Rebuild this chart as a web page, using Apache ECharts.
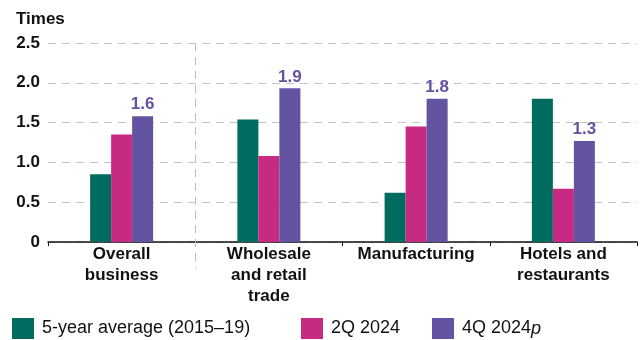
<!DOCTYPE html>
<html>
<head>
<meta charset="utf-8">
<script src="https://cdn.jsdelivr.net/npm/echarts@6/dist/echarts.min.js"></script>
<style>
html,body{margin:0;padding:0;background:#fff;}
#chart{width:644px;height:340px;}
</style>
</head>
<body>
<div id="chart"></div>
<script>
const categories = ['Overall\nbusiness', 'Wholesale\nand retail\ntrade', 'Manufacturing', 'Hotels and\nrestaurants'];
const seriesNames = ['5-year average (2015–19)', '2Q 2024', '4Q 2024p'];
const avg2015_19 = [0.85, 1.54, 0.62, 1.80];
const q2_2024 = [1.35, 1.08, 1.45, 0.67];
const q4_2024p = [1.58, 1.93, 1.80, 1.27];
const yTicks = [0, 0.5, 1.0, 1.5, 2.0, 2.5];
const yTitle = 'Times';
// separator drawn after the first category ("Overall business")
const separatorAfter = [0];

const colors = ['#006b5f', '#c72a83', '#6353a0'];
const FONT = '"Liberation Sans", Arial, sans-serif';

const chart = echarts.init(document.getElementById('chart'));

function legendAt(name, left, extra) {
  const l = {
    data: [name], left: left, top: 318, padding: 0,
    itemWidth: 22, itemHeight: 21, icon: 'rect',
    selectedMode: false,
    textStyle: { fontFamily: FONT, fontSize: 18, color: '#111', padding: [0, 0, 0, 3] }
  };
  return Object.assign(l, extra || {});
}

const option = {
  animation: false,
  color: colors,
  textStyle: { fontFamily: FONT },
  title: {
    text: yTitle, left: 11, top: 6,
    textStyle: { fontFamily: FONT, fontSize: 17, fontWeight: 'bold', color: '#111' }
  },
  legend: [
    legendAt(seriesNames[0], 12),
    legendAt(seriesNames[1], 301),
    legendAt(seriesNames[2], 432, {
      formatter: function (n) { return '{a|' + n.slice(0, -1) + '}{i|' + n.slice(-1) + '}'; },
      textStyle: {
        fontFamily: FONT, fontSize: 18, color: '#111', padding: [0, 0, 0, 3],
        rich: {
          a: { fontFamily: FONT, fontSize: 18, color: '#111' },
          i: { fontFamily: FONT, fontSize: 18, color: '#111', fontStyle: 'italic' }
        }
      }
    })
  ],
  grid: { left: 48, right: 7, top: 43, bottom: 98 },
  xAxis: {
    type: 'category', data: categories,
    axisLine: { lineStyle: { color: '#111', width: 1.5 } },
    axisTick: { show: true, length: 4, lineStyle: { color: '#111' } },
    axisLabel: {
      interval: 0, margin: 2, color: '#111', fontFamily: FONT,
      fontSize: 17, fontWeight: 'bold', lineHeight: 21, verticalAlign: 'top'
    },
    splitLine: { show: false }
  },
  yAxis: {
    type: 'value', min: 0, max: 2.5, interval: 0.5,
    axisLine: { show: false }, axisTick: { show: false },
    axisLabel: {
      margin: 8, color: '#111', fontFamily: FONT, fontSize: 17, fontWeight: 'bold',
      formatter: function (v) { return v === 0 ? '0' : v.toFixed(1); }
    },
    splitLine: { lineStyle: { color: '#c4c4c4', type: [8, 6], width: 1 } }
  },
  series: [
    { name: seriesNames[0], type: 'bar', data: avg2015_19, barWidth: 21, barGap: '0%' },
    { name: seriesNames[1], type: 'bar', data: q2_2024, barWidth: 21, barGap: '0%' },
    {
      name: seriesNames[2], type: 'bar', data: q4_2024p, barWidth: 21, barGap: '0%',
      label: {
        show: true, position: 'top', distance: 3,
        color: colors[2], fontFamily: FONT, fontSize: 17, fontWeight: 'bold',
        formatter: function (p) { return p.value.toFixed(1); }
      }
    },
    {
      type: 'custom', silent: true, clip: false, z: 1,
      data: separatorAfter.map(function (i) { return [i, yTicks[yTicks.length - 1]]; }),
      renderItem: function (params, api) {
        const top = api.coord([api.value(0), api.value(1)]);
        const base = api.coord([api.value(0), 0]);
        const band = api.size([1, 0])[0];
        const x = Math.round(top[0] + band / 2) + 0.5;
        return {
          type: 'line',
          shape: { x1: x, y1: top[1], x2: x, y2: base[1] + 26 },
          style: { stroke: '#bdbdbd', lineWidth: 1, lineDash: [8, 6] }
        };
      }
    }
  ]
};
chart.setOption(option);
</script>
</body>
</html>
